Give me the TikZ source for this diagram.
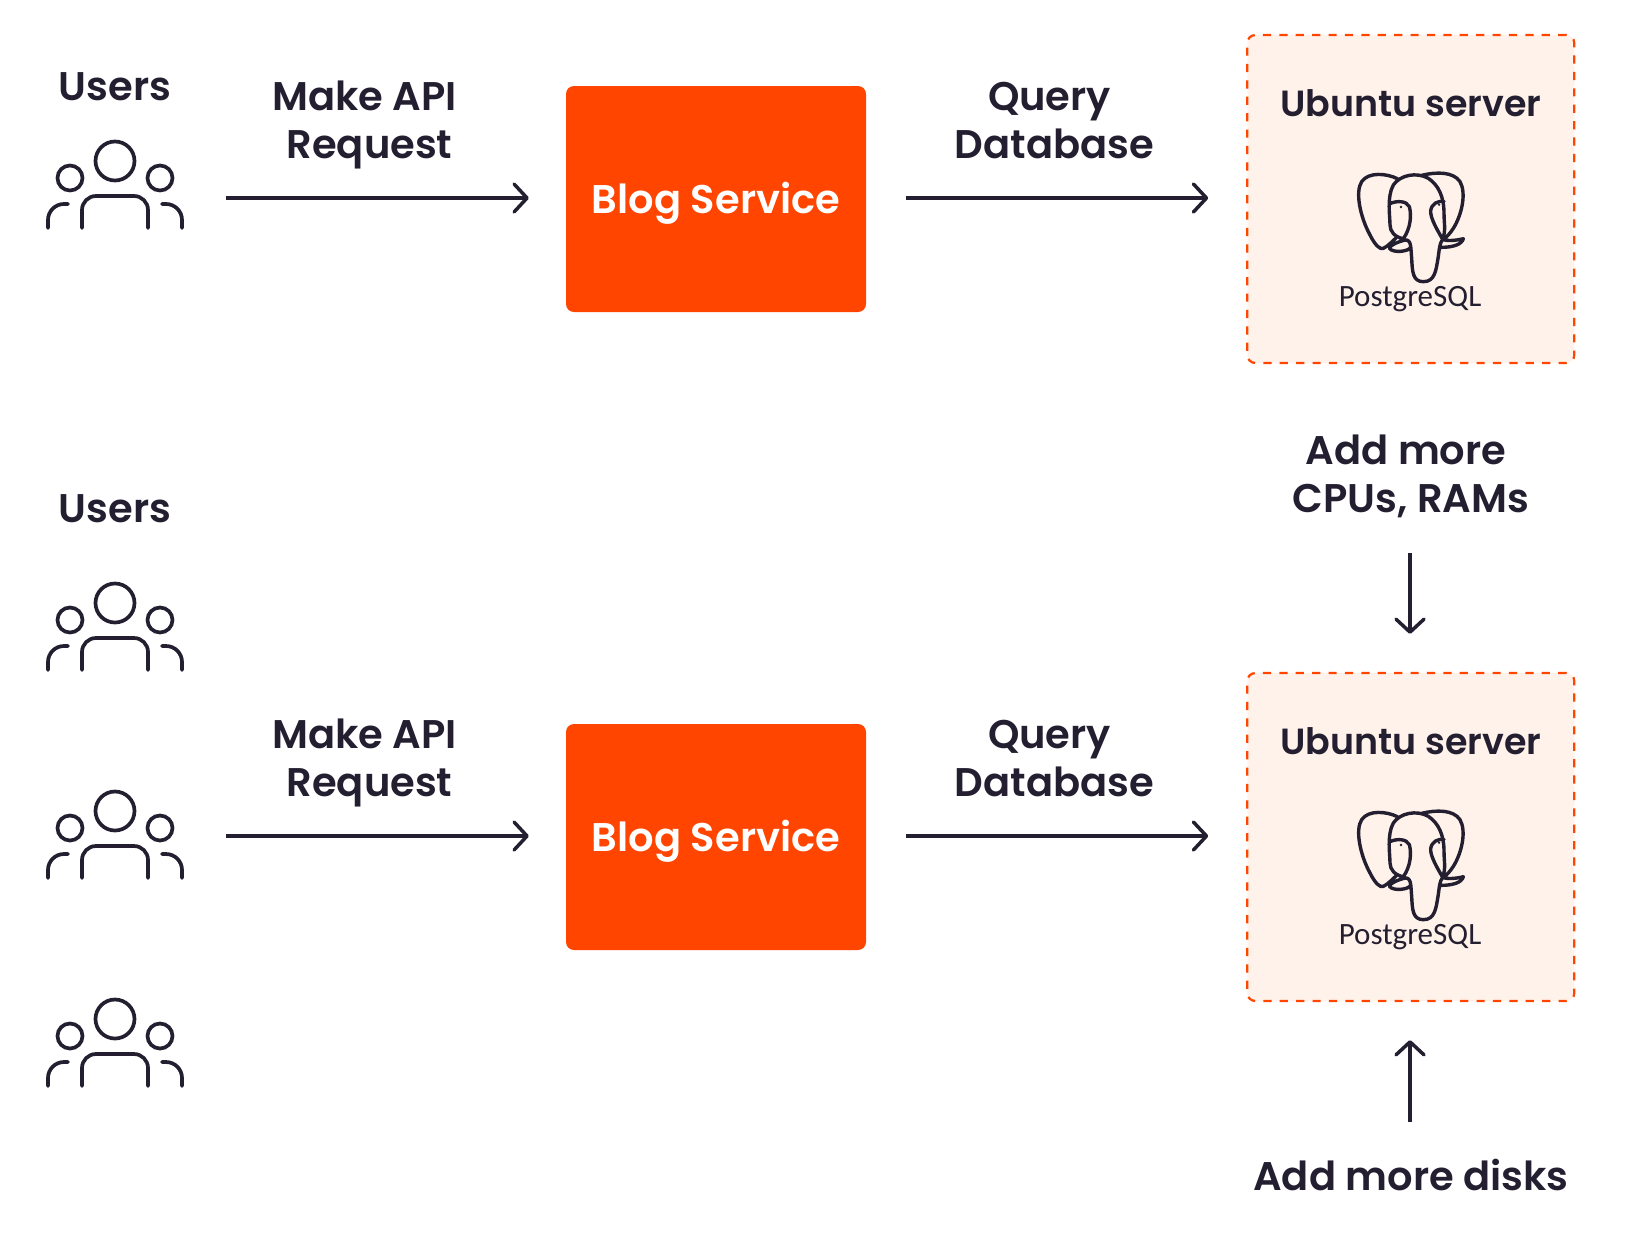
\documentclass[tikz,border=0pt]{standalone}
\usepackage{fontspec}
\setmainfont{Poppins}[UprightFont=* SemiBold]
\newfontfamily\pgfont{Carlito}
\usetikzlibrary{positioning}
\usetikzlibrary{arrows.meta}
\definecolor{inkdark}{HTML}{231F30}
\definecolor{blogred}{HTML}{FF4500}
\definecolor{serverbg}{HTML}{FFF2EA}
\tikzset{
	x=1pt, y=-1pt,
	caption/.style={text=inkdark, font=\fontsize{40}{48}\selectfont, align=center, inner sep=0pt},
	hostname/.style={text=inkdark, font=\fontsize{36.4}{48}\selectfont, inner sep=0pt},
	pglabel/.style={text=inkdark, font=\pgfont\fontsize{31}{36}\selectfont, inner sep=0pt},
	service/.style={fill=blogred, rounded corners=8pt, minimum width=300pt, minimum height=226pt, text=white, text depth=2pt, font=\fontsize{40}{48}\selectfont},
	server/.style={draw=blogred, line width=2.2pt, dash pattern=on 8.2pt off 8.2pt, fill=serverbg, rounded corners=8pt, minimum width=327pt, minimum height=328pt},
	link/.style={draw=inkdark, line width=3.5pt, -{Straight Barb[length=13pt, width=28pt, round]}},
	usericon/.pic={
		\draw[inkdark, line width=3.7pt, line cap=round]
			(0,-29) circle[radius=19.5]
			(-45,-12) circle[radius=12.5]
			(45,-12) circle[radius=12.5]
			(-33,38) -- (-33,20) arc[start angle=180, end angle=270, radius=14] -- (19,6) arc[start angle=270, end angle=360, radius=14] -- (33,38)
			(-67,38) -- (-67,30) arc[start angle=180, end angle=270, radius=16] -- (-47,14)
			(67,38) -- (67,30) arc[start angle=360, end angle=270, radius=16] -- (47,14);
	},
	pgelephant/.pic={
		\begin{scope}[scale=1/3, shift={(-210,-195)}]
		\draw[inkdark, line width=3.4pt, line cap=round, line join=round]
			% ears
			(172,56) .. controls (140,40) and (85,35) .. (65,65) .. controls (45,95) and (60,170) .. (90,225) .. controls (105,255) and (120,270) .. (130,265) .. controls (145,258) and (155,245) .. (168,234)
			(245,46) .. controls (290,35) and (340,35) .. (360,65) .. controls (380,100) and (365,165) .. (340,205) .. controls (330,220) and (320,232) .. (310,238)
			% head
			(150,195) .. controls (150,170) and (140,110) .. (160,75) .. controls (180,45) and (230,35) .. (265,55) .. controls (295,75) and (312,110) .. (312,160) .. controls (312,190) and (318,210) .. (308,238)
			% left eye and cheek
			(152,130) .. controls (170,122) and (200,122) .. (208,140) .. controls (215,165) and (212,205) .. (190,236)
			(150,195) .. controls (150,215) and (165,232) .. (190,236)
			% right eye
			(312,124) .. controls (295,122) and (275,130) .. (272,152) .. controls (270,175) and (295,215) .. (308,238)
			% tusks
			(195,240) .. controls (175,245) and (150,255) .. (148,265) .. controls (160,280) and (205,275) .. (212,262)
			(308,238) .. controls (325,245) and (355,240) .. (370,236) .. controls (365,255) and (335,262) .. (304,262)
			% trunk
			(195,240) .. controls (215,238) and (212,265) .. (215,295) .. controls (217,335) and (218,365) .. (250,365) .. controls (285,365) and (288,330) .. (294,295) .. controls (298,270) and (298,250) .. (308,238);
		\fill[inkdark] (183,141) circle[radius=4] (297,134) circle[radius=4];
		\end{scope}
	}
}
\begin{document}
\begin{tikzpicture}
	\useasboundingbox (0,0) rectangle (1632,1232);
	
	% upper row
	\node[caption] (usersA) at (115,87) {Users};
	\path (115,190) pic {usericon};
	\node[service] (blogA) at (716,199) {Blog Service};
	\node[server, right = 380pt of blogA] (serverA) {};
	\node[hostname] (ubuntuA) at (1411,103) {Ubuntu server};
	\path (1410,225) pic {pgelephant};
	\node[pglabel] (pgA) at (1410,299) {PostgreSQL};
	\coordinate (startA) at (226,198);
	\node[caption] (requestA) at (369.5,125) {Make API\hspace*{10pt}\\Request};
	\node[caption] (queryA) at (1054.5,120.5) {Query\hspace*{10pt}\\Database};
	\path[link, shorten >=37pt] (startA) -- (blogA.west |- startA);
	\path[link, shorten <=40pt, shorten >=38pt] (blogA.east |- startA) -- (serverA.west |- startA);
	
	% vertical scaling notes
	\node[caption] (cpuNote) at (1411,476) {Add more\hspace*{10pt}\\CPUs, RAMs};
	\coordinate (cpuStart) at (1410,553);
	\coordinate (diskStart) at (1410,1122);
	\node[caption] (diskNote) at (1411,1175) {Add more disks};
	
	% lower row
	\node[caption] (usersB) at (115,509) {Users};
	\path (115,632) pic {usericon};
	\path (115,840) pic {usericon};
	\path (115,1048) pic {usericon};
	\node[service] (blogB) at (716,837) {Blog Service};
	\node[server, right = 380pt of blogB] (serverB) {};
	\node[hostname] (ubuntuB) at (1411,741) {Ubuntu server};
	\path (1410,863) pic {pgelephant};
	\node[pglabel] (pgB) at (1410,937) {PostgreSQL};
	\coordinate (startB) at (226,836);
	\node[caption] (requestB) at (369.5,763) {Make API\hspace*{10pt}\\Request};
	\node[caption] (queryB) at (1054.5,758.5) {Query\hspace*{10pt}\\Database};
	\path[link, shorten >=37pt] (startB) -- (blogB.west |- startB);
	\path[link, shorten <=40pt, shorten >=38pt] (blogB.east |- startB) -- (serverB.west |- startB);
	\path[link, shorten >=38pt] (cpuStart) -- (cpuStart |- serverB.north);
	\path[link, shorten >=38pt] (diskStart) -- (diskStart |- serverB.south);
\end{tikzpicture}
\end{document}
